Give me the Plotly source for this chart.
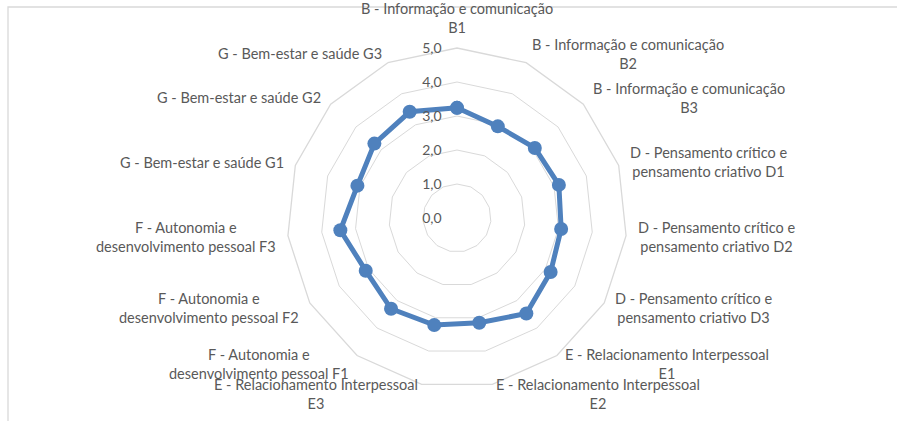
import math
import plotly.graph_objects as go

# categories (competence areas) and mean scores
categorias = [
    "B - Informação e comunicação<br>B1",
    "B - Informação e comunicação<br>B2",
    "B - Informação e comunicação<br>B3",
    "D - Pensamento crítico e<br>pensamento criativo D1",
    "D - Pensamento crítico e<br>pensamento criativo D2",
    "D - Pensamento crítico e<br>pensamento criativo D3",
    "E - Relacionamento Interpessoal<br>E1",
    "E - Relacionamento Interpessoal<br>E2",
    "E - Relacionamento Interpessoal<br>E3",
    "F - Autonomia e<br>desenvolvimento pessoal F1",
    "F - Autonomia e<br>desenvolvimento pessoal F2",
    "F - Autonomia e<br>desenvolvimento pessoal F3",
    "G - Bem-estar e saúde G1",
    "G - Bem-estar e saúde G2",
    "G - Bem-estar e saúde G3",
]
medias = [3.24, 2.95, 3.08, 3.15, 3.08, 3.18, 3.47, 3.15, 3.22,
          3.30, 3.10, 3.45, 3.08, 3.27, 3.42]
escala = [0, 1, 2, 3, 4, 5]

azul = "#4F81BD"
cinza = "#595959"
W, H = 897, 421
cx, cy, raio = 457, 218, 170  # polar centre and outer radius in pixels

fig = go.Figure()
fig.add_trace(go.Scatterpolar(
    r=medias + medias[:1],
    theta=categorias + categorias[:1],
    mode="lines+markers",
    line=dict(color=azul, width=5),
    marker=dict(color=azul, size=14),
    showlegend=False,
))

# category labels placed next to each spoke, Excel style
notas = []
n = len(categorias)
for i, txt in enumerate(categorias):
    ang = 360 * i / n
    a = math.radians(ang)
    px_ = cx + (raio + 10) * math.sin(a)
    py_ = cy - (raio + 10) * math.cos(a)
    if ang == 0:
        xa, ya = "center", "bottom"
    elif ang < 180:
        xa, ya = "left", "middle"
    elif ang == 180:
        xa, ya = "center", "top"
    else:
        xa, ya = "right", "middle"
    notas.append(dict(text=txt, x=px_ / W, y=1 - py_ / H, xref="paper", yref="paper",
                      xanchor=xa, yanchor=ya, align="center", showarrow=False,
                      font=dict(size=14.5, color=cinza)))

fig.update_layout(
    width=W, height=H,
    margin=dict(l=0, r=0, t=0, b=0),
    paper_bgcolor="white",
    separators=",.",
    font=dict(family="Lato", size=14, color=cinza),
    polar=dict(
        domain=dict(x=[(cx - raio) / W, (cx + raio) / W],
                    y=[1 - (cy + raio) / H, 1 - (cy - raio) / H]),
        bgcolor="white",
        gridshape="linear",
        radialaxis=dict(
            range=[0, 5], tickvals=escala, tickformat=".1f",
            angle=90, side="counterclockwise", tickangle=90,
            showline=False, ticks="outside", ticklen=10,
            tickcolor="rgba(0,0,0,0)", gridcolor="#d9d9d9", gridwidth=1.3,
            tickfont=dict(size=14, color=cinza),
        ),
        angularaxis=dict(
            direction="clockwise", rotation=90, showticklabels=False,
            showgrid=False, showline=True, linecolor="#d9d9d9", linewidth=1.3,
            ticks="",
        ),
    ),
    annotations=notas,
    shapes=[dict(type="rect", xref="paper", yref="paper",
                 x0=8 / W, x1=1.05, y0=-0.05, y1=1 - 7 / H,
                 line=dict(color="#d9d9d9", width=1.3), layer="below")],
)

fig.write_html("out.html", config={"displayModeBar": False},
               post_script="document.body.style.margin='0';")
